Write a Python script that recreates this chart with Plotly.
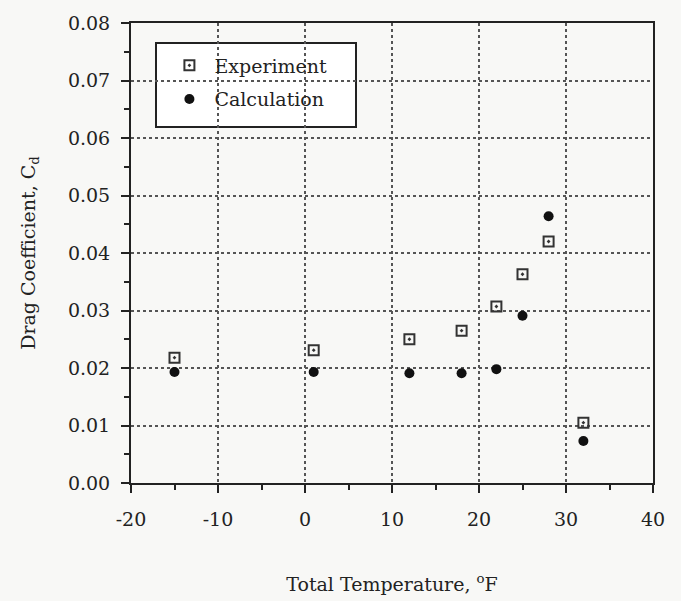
import plotly.graph_objects as go

# Total temperature (deg F) and drag coefficient values
exp_temp = [-15, 1, 12, 18, 22, 25, 28, 32]
exp_cd = [0.0218, 0.0231, 0.0250, 0.0265, 0.0307, 0.0363, 0.0420, 0.0105]

calc_temp = [-15, 1, 12, 18, 22, 25, 28, 32]
calc_cd = [0.0193, 0.0193, 0.0191, 0.0191, 0.0198, 0.0291, 0.0464, 0.0073]

x_ticks = [-20, -10, 0, 10, 20, 30, 40]
y_ticks = [0.00, 0.01, 0.02, 0.03, 0.04, 0.05, 0.06, 0.07, 0.08]

FONT = "DejaVu Serif"
BG = "#f8f8f6"
INK = "#222222"

fig = go.Figure()
fig.add_trace(go.Scatter(
    x=exp_temp, y=exp_cd, mode="markers", name="Experiment",
    legendgroup="exp",
    marker=dict(symbol="square-open-dot", size=10, color="#333333",
                line=dict(width=2, color="#333333")),
))
fig.add_trace(go.Scatter(
    x=calc_temp, y=calc_cd, mode="markers", name="Calculation",
    legendgroup="calc",
    marker=dict(symbol="circle", size=10, color="#111111"),
))

axis_common = dict(
    showline=True, linecolor=INK, linewidth=2, mirror=True,
    ticks="outside", ticklen=8, tickwidth=1.5, tickcolor=INK,
    showgrid=True, gridcolor="#555555", gridwidth=1.5, griddash="dot",
    zeroline=False, automargin=False,
    tickfont=dict(family=FONT, size=19, color=INK),
    title_font=dict(family=FONT, size=19, color=INK),
)

fig.update_xaxes(
    range=[-20, 40], tickvals=x_ticks, ticktext=[str(v) for v in x_ticks],
    minor=dict(dtick=5, tick0=-20, ticks="outside", ticklen=5, tickcolor=INK,
               showgrid=False),
    ticklabelstandoff=10,
    title_text="Total Temperature, <sup>o</sup>F", title_standoff=49,
    **axis_common,
)
fig.update_yaxes(
    range=[0, 0.08], tickvals=y_ticks, ticktext=[f"{v:.2f}" for v in y_ticks],
    minor=dict(dtick=0.005, tick0=0, ticks="outside", ticklen=5, tickcolor=INK,
               showgrid=False),
    ticklabelstandoff=7,
    title_text="Drag Coefficient, C<sub>d</sub>", title_standoff=27,
    **axis_common,
)

# Framed white panel behind the legend entries
fig.add_shape(
    type="rect", xref="paper", yref="paper",
    x0=(156 - 131) / 522, x1=(356 - 131) / 522,
    y0=(483 - 127) / 460, y1=(483 - 43) / 460,
    fillcolor="#ffffff", line=dict(color=INK, width=2), layer="between",
)

fig.update_layout(
    width=681, height=601,
    margin=dict(l=131, r=28, t=23, b=118),
    paper_bgcolor=BG, plot_bgcolor=BG,
    showlegend=True,
    legend=dict(
        x=0.064, y=0.949, xanchor="left", yanchor="top",
        bgcolor="rgba(0,0,0,0)", borderwidth=0,
        font=dict(family=FONT, size=19, color=INK),
        itemwidth=40, tracegroupgap=6,
    ),
)

fig.write_html("out.html")
